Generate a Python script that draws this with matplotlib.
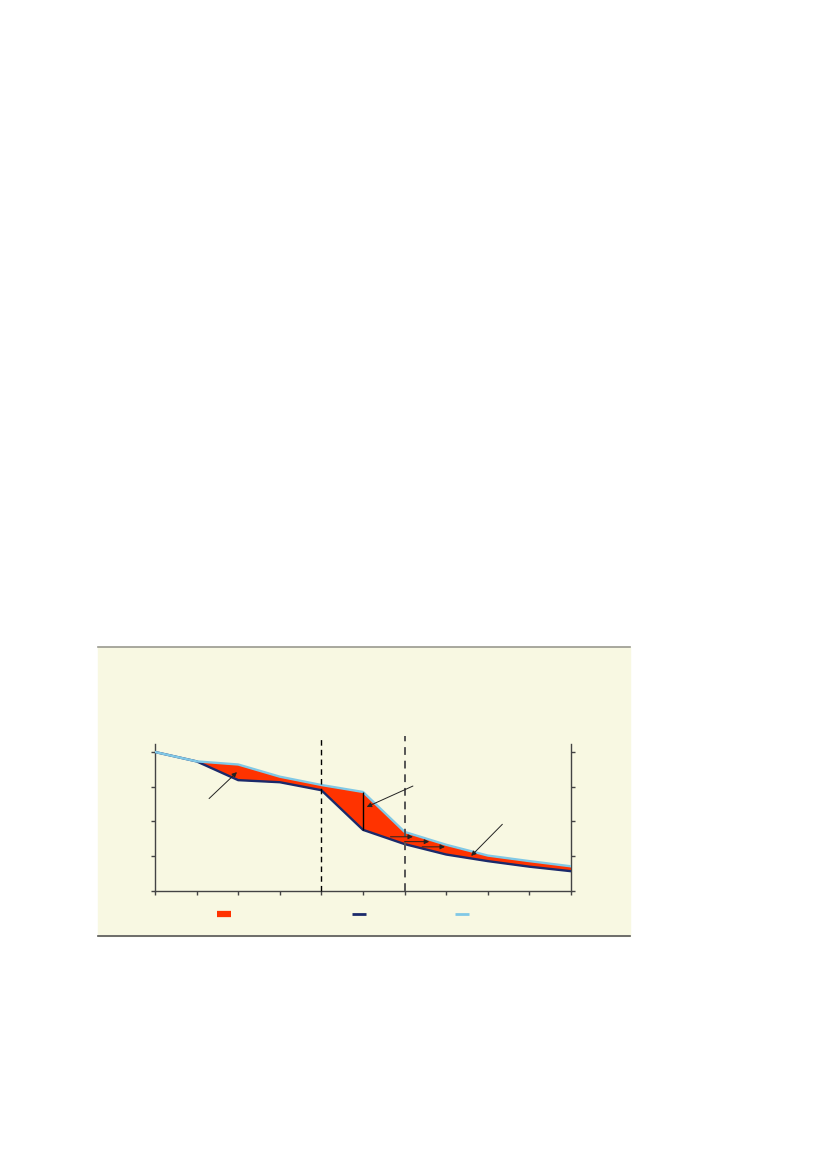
import matplotlib
matplotlib.use('Agg')
import matplotlib.pyplot as plt
from matplotlib.lines import Line2D
from matplotlib.patches import Rectangle

# data
x = [0, 1, 2, 3, 4, 5, 6, 7, 8, 9, 10]
upper = [4.0, 3.73, 3.64, 3.29, 3.05, 2.85, 1.70, 1.33, 1.02, 0.86, 0.71]
lower = [4.0, 3.73, 3.19, 3.13, 2.90, 1.76, 1.35, 1.05, 0.86, 0.70, 0.57]
yticks = [0, 1, 2, 3, 4]
dashed_x = [4, 6]
# arrows: (tail, head)
arrows = [((1.30, 2.66), (1.97, 3.42)),
          ((6.20, 3.02), (5.09, 2.42)),
          ((8.35, 1.92), (7.60, 1.01)),
          ((5.66, 1.56), (6.20, 1.56)),
          ((6.00, 1.42), (6.59, 1.42)),
          ((6.42, 1.27), (6.97, 1.27))]

red = '#FF3300'
navy = '#1B2A6B'
light = '#80C8E6'
bg = '#F8F8E2'

W, H = 827, 1170
fig = plt.figure(figsize=(W / 100, H / 100), dpi=100)

# panel background
fig.add_artist(Rectangle((98 / W, 1 - 936 / H), 532 / W, 289 / H,
                         transform=fig.transFigure, color=bg, zorder=0))
fig.add_artist(Line2D([98 / W, 630 / W], [1 - 647 / H] * 2, color='#9a9a90', lw=1.2))
fig.add_artist(Line2D([98 / W, 630 / W], [1 - 936 / H] * 2, color='#555555', lw=1.2))

ax = fig.add_axes([155 / W, 1 - 891 / H, 416 / W, 147 / H])
ax.set_facecolor('none')

ax.fill_between(x, lower, upper, color=red, lw=0, zorder=2)
ax.plot(x, lower, color=navy, lw=1.7, zorder=3)
ax.plot(x, upper, color=light, lw=1.7, zorder=3)
ax.vlines(5, lower[5], upper[5], color='black', lw=1.0, zorder=4)

for dx, c, w in zip(dashed_x, ['black', '#555555'], [1.0, 1.4]):
    ax.plot([dx, dx], [0, 4.46], ls=(0, (4, 3)), color=c, lw=w, clip_on=False, zorder=5)

for tail, head in arrows:
    ax.annotate('', xy=head, xytext=tail,
                arrowprops=dict(arrowstyle='-|>', color='#222222', lw=0.7,
                                mutation_scale=7, shrinkA=0, shrinkB=0), zorder=6)

ax.set_xlim(0, 10)
ax.set_ylim(0, 4.23)
ax.set_xticks(x)
ax.set_yticks(yticks)
ax.tick_params(axis='both', direction='out', length=3, width=1, color='#444444',
               labelleft=False, labelbottom=False)
ax.tick_params(axis='y', right=True)
ax.spines['top'].set_visible(False)
for s in ['left', 'right', 'bottom']:
    ax.spines[s].set_color('#444444')
    ax.spines[s].set_linewidth(1)

# legend markers (no text in the reference)
handles = [Line2D([], [], color=red, lw=4.5, solid_capstyle='butt'),
           Line2D([], [], color=navy, lw=2, solid_capstyle='butt'),
           Line2D([], [], color=light, lw=2, solid_capstyle='butt')]
leg_x = [217, 352, 455]
for h, lx in zip(handles, leg_x):
    fig.legend([h], [''], loc='center left', bbox_to_anchor=(lx / W, 1 - 915 / H),
               frameon=False, handlelength=1.0, handletextpad=0, borderpad=0,
               borderaxespad=0, fontsize=10)

fig.savefig('out.png', dpi=100)
